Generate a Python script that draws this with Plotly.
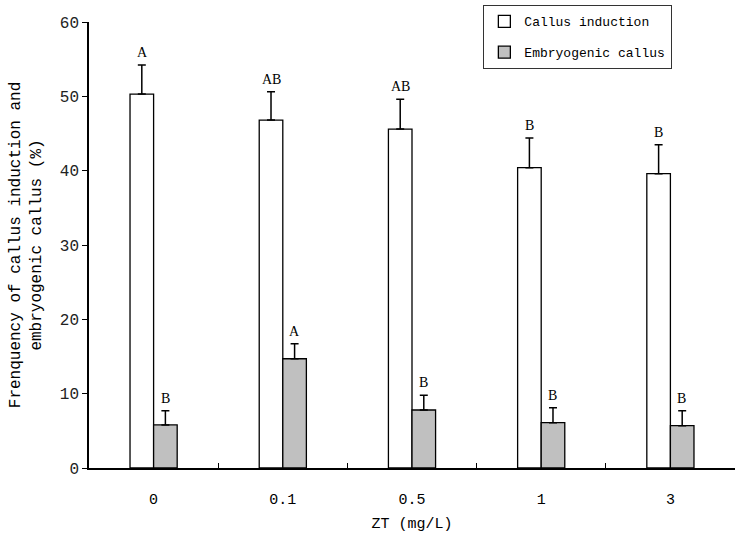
import plotly.graph_objects as go

categories = ["0", "0.1", "0.5", "1", "3"]
callus_induction = [50.3, 46.8, 45.6, 40.4, 39.6]
callus_induction_err = [3.9, 3.8, 4.0, 4.0, 3.9]
callus_letters = ["A", "AB", "AB", "B", "B"]
embryogenic = [5.8, 14.7, 7.8, 6.1, 5.7]
embryogenic_err = [1.9, 2.0, 2.0, 2.0, 2.0]
embryogenic_letters = ["B", "A", "B", "B", "B"]
y_ticks = [0, 10, 20, 30, 40, 50, 60]

mono = "Liberation Mono"
serif = "Liberation Serif"

fig = go.Figure()
fig.add_trace(go.Bar(
    x=categories, y=callus_induction, name="Callus induction",
    legendgroup="a",
    marker=dict(color="white", line=dict(color="black", width=1.3)),
    error_y=dict(type="data", array=callus_induction_err,
                 arrayminus=[0] * len(categories), symmetric=False,
                 color="black", thickness=1.5, width=4),
))
fig.add_trace(go.Bar(
    x=categories, y=embryogenic, name="Embryogenic callus",
    legendgroup="b",
    marker=dict(color="#c0c0c0", line=dict(color="black", width=1.3)),
    error_y=dict(type="data", array=embryogenic_err,
                 arrayminus=[0] * len(categories), symmetric=False,
                 color="black", thickness=1.5, width=4),
))

annotations = []
for i, (v, e, t) in enumerate(zip(callus_induction, callus_induction_err, callus_letters)):
    annotations.append(dict(x=i, y=v + e, text=t, showarrow=False, xref="x", yref="y",
                            xshift=-11.5, yshift=3, yanchor="bottom",
                            font=dict(family=serif, size=14, color="black")))
for i, (v, e, t) in enumerate(zip(embryogenic, embryogenic_err, embryogenic_letters)):
    annotations.append(dict(x=i, y=v + e, text=t, showarrow=False, xref="x", yref="y",
                            xshift=11.5, yshift=3, yanchor="bottom",
                            font=dict(family=serif, size=14, color="black")))

fig.update_layout(
    width=745, height=544,
    margin=dict(l=89, r=10, t=22, b=76, autoexpand=False),
    paper_bgcolor="white", plot_bgcolor="white",
    barmode="group", bargap=0.635, bargroupgap=0,
    showlegend=True,
    legend=dict(x=0.61, y=1.038, xanchor="left", yanchor="top",
                bordercolor="#333333", borderwidth=1.3, bgcolor="white",
                font=dict(family=mono, size=13, color="black"),
                traceorder="grouped", tracegroupgap=11,
                itemwidth=30),
    annotations=annotations,
    xaxis=dict(
        type="category", range=[-0.5, 4.5],
        showline=True, linecolor="black", linewidth=1.5,
        ticks="inside", tickson="boundaries", ticklen=5, tickcolor="black", tickwidth=1.3,
        showgrid=False, zeroline=False, automargin=False,
        ticklabelstandoff=16,
        tickfont=dict(family=mono, size=15, color="black"),
        title=dict(text="ZT (mg/L)", font=dict(family=mono, size=15, color="black"), standoff=10),
    ),
    yaxis=dict(
        range=[0, 60], tickvals=y_ticks,
        showline=True, linecolor="black", linewidth=1.5,
        ticks="outside", ticklen=5, tickcolor="black", tickwidth=1.3,
        showgrid=False, zeroline=False, automargin=False,
        tickfont=dict(family=mono, size=16, color="#222222"),
        title=dict(text="Frenquency of callus induction and<br>embryogenic callus (%)",
                   font=dict(family=mono, size=16, color="black"), standoff=14),
    ),
)

fig.write_html("out.html", config={"displayModeBar": False},
               post_script="document.body.style.margin='0';")
